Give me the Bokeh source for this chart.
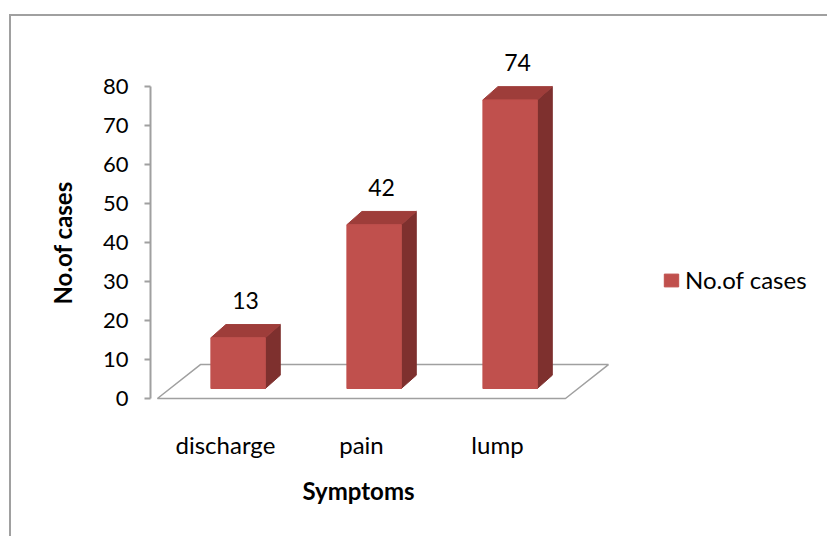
from bokeh.plotting import figure
from bokeh.models import (FixedTicker, Range1d, Legend, LegendItem, Title,
                          ColumnDataSource)
from bokeh.embed import file_html
from bokeh.resources import INLINE
from bokeh.core.properties import value

# ---- data ----
categories = ["discharge", "pain", "lump"]
cases = [13, 42, 74]
y_ticks = [0, 10, 20, 30, 40, 50, 60, 70, 80]
series_name = "No.of cases"
x_title = "Symptoms"
y_title = "No.of cases"

# ---- style constants ----
FONT = "Lato"
FRONT = "#C0504D"
SIDE = "#7E302E"
TOP = "#9E3D3A"
GREY = "#A0A0A0"

# 3D geometry (data units)
FLOOR_DX, FLOOR_DY = 0.316, 8.7
BAR_X0, BAR_Y0 = 0.093, 2.56
BAR_W = 0.40
BAR_DX, BAR_DY = 0.11, 3.4

n = len(categories)
xs_idx = list(range(n))

p = figure(width=818, height=522, output_backend="svg", toolbar_location=None,
           x_range=Range1d(-0.551, 4.375), y_range=Range1d(-1.54, 91.79),
           min_border_left=139, min_border_right=9, min_border_top=24,
           min_border_bottom=134)
p.styles = {"margin-left": "9px", "margin-top": "14px",
            "border-left": "2px solid #A0A0A0", "border-top": "2px solid #A0A0A0"}
p.outline_line_color = None
p.grid.visible = False
p.background_fill_color = "white"
p.border_fill_color = "white"

# floor
fl = -0.5
fr = n - 0.5
p.patch([fl, fr, fr + FLOOR_DX, fl + FLOOR_DX], [0, 0, FLOOR_DY, FLOOR_DY],
        fill_color="white", line_color=GREY, line_width=1.5)

# bars
left = [i - BAR_W / 2 + BAR_X0 for i in xs_idx]
right = [i + BAR_W / 2 + BAR_X0 for i in xs_idx]
bottom = [BAR_Y0] * n
top = [BAR_Y0 + v for v in cases]

side_xs = [[r, r + BAR_DX, r + BAR_DX, r] for r in right]
side_ys = [[BAR_Y0, BAR_Y0 + BAR_DY, t + BAR_DY, t] for t in top]
p.patches(side_xs, side_ys, fill_color=SIDE, line_color=SIDE)

top_xs = [[l, r, r + BAR_DX, l + BAR_DX] for l, r in zip(left, right)]
top_ys = [[t, t, t + BAR_DY, t + BAR_DY] for t in top]
p.patches(top_xs, top_ys, fill_color=TOP, line_color=TOP)

src = ColumnDataSource(dict(left=left, right=right, bottom=bottom, top=top))
front = p.quad(left="left", right="right", bottom="bottom", top="top", source=src,
               fill_color=FRONT, line_color=FRONT)

# value labels
lab_x = [(l + r) / 2 + BAR_DX / 2 for l, r in zip(left, right)]
lab_y = [t + BAR_DY + 6.2 for t in top]
p.text(x=lab_x, y=lab_y, text=[str(v) for v in cases], text_font=value(FONT),
       text_font_size="23px", text_align="center", text_baseline="middle",
       text_color="black")

# y axis
ya = p.yaxis[0]
ya.bounds = (0, 80)
ya.ticker = FixedTicker(ticks=y_ticks)
ya.axis_line_color = GREY
ya.axis_line_width = 2
ya.major_tick_line_color = GREY
ya.major_tick_line_width = 2
ya.major_tick_out = 6
ya.major_tick_in = 0
ya.minor_tick_line_color = None
ya.major_label_text_font = FONT
ya.major_label_text_font_size = "22px"
ya.major_label_text_color = "black"
ya.major_label_standoff = 16

# y-axis title (as a left title, offset to match reference)
p.add_layout(Title(text=y_title, align="left", offset=100, standoff=46,
                   text_font=FONT, text_font_size="24px", text_font_style="bold",
                   text_color="black"), "left")

# x axis
xa = p.xaxis[0]
xa.ticker = FixedTicker(ticks=xs_idx)
xa.major_label_overrides = {i: c for i, c in zip(xs_idx, categories)}
xa.axis_line_color = None
xa.major_tick_line_color = None
xa.minor_tick_line_color = None
xa.major_label_text_font = FONT
xa.major_label_text_font_size = "24px"
xa.major_label_text_color = "black"
xa.major_label_standoff = 19

# x-axis title (placed as a title below, offset to match reference)
p.add_layout(Title(text=x_title, align="left", offset=152, standoff=24,
                   text_font=FONT, text_font_size="24px", text_font_style="bold",
                   text_color="black"), "below")

# legend
legend = Legend(items=[LegendItem(label=series_name, renderers=[front])],
                location=(512, 110), padding=0, margin=0, spacing=0,
                label_standoff=5, glyph_width=18, glyph_height=16,
                label_height=20, border_line_color=None,
                background_fill_alpha=0, label_text_font=FONT,
                label_text_font_size="24px", label_text_color="black")
p.add_layout(legend)

open("out.html", "w").write(file_html(p, INLINE))
